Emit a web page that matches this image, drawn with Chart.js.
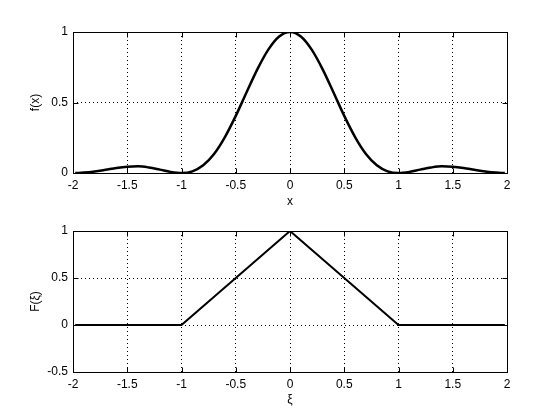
<!DOCTYPE html>
<html>
<head>
<meta charset="utf-8">
<script src="https://cdn.jsdelivr.net/npm/chart.js@4.4.0/dist/chart.umd.min.js"></script>
<style>
  html, body { margin: 0; padding: 0; background: #fff; }
  #wrap { position: relative; width: 560px; height: 420px; }
  #wrap div { position: absolute; left: 0; width: 560px; }
</style>
</head>
<body>
<div id="wrap">
  <div style="top:0;height:215px"><canvas id="cv-top"></canvas></div>
  <div style="top:215px;height:205px"><canvas id="cv-bottom"></canvas></div>
</div>
<script>
// top plot, f(x)
let xTop = [-1.98, -1.9, -1.8, -1.7, -1.6, -1.5, -1.4, -1.3, -1.2, -1.1, -1.0,
            -0.9, -0.8, -0.7, -0.6, -0.5, -0.4, -0.3, -0.2, -0.1, 0,
            0.1, 0.2, 0.3, 0.4, 0.5, 0.6, 0.7, 0.8, 0.9, 1.0,
            1.1, 1.2, 1.3, 1.4, 1.5, 1.6, 1.7, 1.8, 1.9, 1.98];
let fTop = [0.000, 0.003, 0.011, 0.023, 0.036, 0.045, 0.047, 0.039, 0.024, 0.008, 0,
            0.012, 0.055, 0.135, 0.255, 0.405, 0.573, 0.737, 0.875, 0.968, 1,
            0.968, 0.875, 0.737, 0.573, 0.405, 0.255, 0.135, 0.055, 0.012, 0,
            0.008, 0.024, 0.039, 0.047, 0.045, 0.036, 0.023, 0.011, 0.003, 0.000];

// bottom plot, F(xi)
let xBottom = [-1.98, -1, 0, 1, 1.98];
let fBottom = [0, 0, 1, 0, 0];

let xTicks = [-2, -1.5, -1, -0.5, 0, 0.5, 1, 1.5, 2];
let yTicksTop = [0, 0.5, 1];
let yTicksBottom = [-0.5, 0, 0.5, 1];

const FONT = { family: '"Liberation Sans", Arial, sans-serif', size: 12 };

// box around the axes and inward tick marks (matlab look)
const boxPlugin = {
    id: 'boxTicks',
    afterDraw(chart) {
        const ctx = chart.ctx;
        const a = chart.chartArea;
        const L = Math.round(a.left) + 0.5, R = Math.round(a.right) + 0.5;
        const T = Math.round(a.top) + 0.5, B = Math.round(a.bottom) + 0.5;
        ctx.save();
        ctx.strokeStyle = '#000';
        ctx.lineWidth = 1;
        ctx.setLineDash([]);
        ctx.strokeRect(L, T, R - L, B - T);
        ctx.beginPath();
        const xs = chart.scales.x, ys = chart.scales.y;
        xs.ticks.forEach(function(t){
            const p = Math.round(xs.getPixelForValue(t.value)) + 0.5;
            ctx.moveTo(p, B); ctx.lineTo(p, B - 5);
            ctx.moveTo(p, T); ctx.lineTo(p, T + 5);
        });
        ys.ticks.forEach(function(t){
            const p = Math.round(ys.getPixelForValue(t.value)) + 0.5;
            ctx.moveTo(L, p); ctx.lineTo(L + 5, p);
            ctx.moveTo(R, p); ctx.lineTo(R - 5, p);
        });
        ctx.stroke();
        ctx.restore();
    }
};

function tickLabel(v) { return String(v); }

function makeChart(id, xs, ys, yMin, yMax, yTicks, xTitle, yTitle, lw, smooth, pad, xAxisH, xTitlePad) {
    const pts = xs.map(function(v, i){ return { x: v, y: ys[i] }; });
    return new Chart(document.getElementById(id).getContext('2d'), {
        type: 'line',
        data: {
            datasets: [{
                data: pts,
                borderColor: '#000',
                borderWidth: lw,
                pointRadius: 0,
                tension: 0,
                cubicInterpolationMode: smooth ? 'monotone' : 'default',
                fill: false
            }]
        },
        options: {
            responsive: true,
            maintainAspectRatio: false,
            animation: false,
            events: [],
            layout: { padding: { top: pad, right: 53, left: 0, bottom: 0 } },
            plugins: { legend: { display: false }, tooltip: { enabled: false } },
            scales: {
                x: {
                    type: 'linear', min: -2, max: 2,
                    afterBuildTicks: function(s){ s.ticks = xTicks.map(function(v){ return { value: v }; }); },
                    afterFit: function(s){ s.height = xAxisH; },
                    grid: { color: '#000', lineWidth: 1, drawTicks: false },
                    border: { display: false, dash: [1, 3] },
                    ticks: { color: '#000', font: FONT, padding: 5, maxRotation: 0, callback: tickLabel },
                    title: { display: true, text: xTitle, color: '#000', font: FONT, padding: { top: 0, bottom: xTitlePad } }
                },
                y: {
                    min: yMin, max: yMax,
                    afterBuildTicks: function(s){ s.ticks = yTicks.map(function(v){ return { value: v }; }); },
                    afterFit: function(s){ s.width = 73; },
                    grid: { color: '#000', lineWidth: 1, drawTicks: false },
                    border: { display: false, dash: [1, 3] },
                    ticks: { color: '#000', font: FONT, padding: 5, callback: tickLabel },
                    title: { display: true, text: yTitle, color: '#000', font: FONT, padding: { top: 28, bottom: 0 } }
                }
            }
        },
        plugins: [boxPlugin]
    });
}

makeChart('cv-top', xTop, fTop, 0, 1, yTicksTop, 'x', 'f(x)', 2.5, true, 32, 42, 6);
makeChart('cv-bottom', xBottom, fBottom, -0.5, 1, yTicksBottom, 'ξ', 'F(ξ)', 2, false, 16, 48, 13);
</script>
</body>
</html>
